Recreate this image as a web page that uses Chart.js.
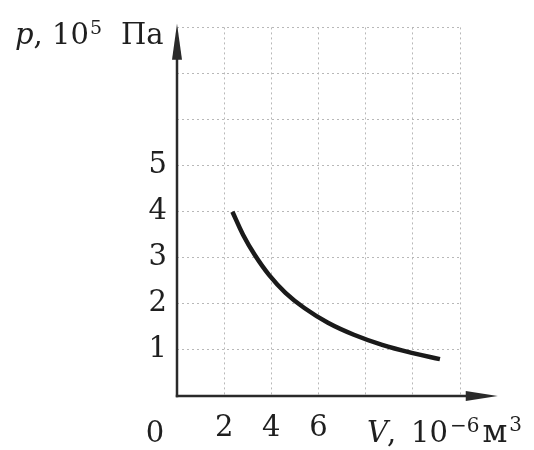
<!DOCTYPE html>
<html>
<head>
<meta charset="utf-8">
<script src="https://cdn.jsdelivr.net/npm/chart.js@4/dist/chart.umd.min.js"></script>
<style>
  html, body { margin: 0; padding: 0; background: #ffffff; }
  #wrap { width: 534px; height: 450px; }
</style>
</head>
<body>
<div id="wrap"><canvas id="c" width="534" height="450"></canvas></div>
<script>
// Data
const volume   = [2.35, 2.8, 3.3, 3.9, 4.6, 5.4, 6.4, 7.5, 8.7, 10.0, 11.15]; // V, 10^-6 m^3
const pressure = [4.0, 3.5, 3.06, 2.63, 2.24, 1.91, 1.59, 1.33, 1.11, 0.93, 0.8]; // p, 10^5 Pa
const yTickLabels = [1, 2, 3, 4, 5];
const xTickLabels = [2, 4, 6];
const originLabel = '0';

const FONT = '"DejaVu Serif", "Liberation Serif", serif';
const INK = '#1f1f1f';

const points = volume.map((v, i) => ({ x: v, y: pressure[i] }));

const axesPlugin = {
  id: 'axesArrows',
  afterDraw(chart) {
    const ctx = chart.ctx;
    const xs = chart.scales.x, ys = chart.scales.y;
    const x0 = xs.getPixelForValue(0), y0 = ys.getPixelForValue(0);
    const xTip = xs.getPixelForValue(13.6);
    const yTip = ys.getPixelForValue(8.08);
    ctx.save();
    ctx.strokeStyle = '#2a2a2a';
    ctx.fillStyle = '#2a2a2a';
    ctx.lineWidth = 2.5;
    ctx.lineCap = 'butt';
    // x axis
    ctx.beginPath();
    ctx.moveTo(x0 - 1.2, y0);
    ctx.lineTo(xTip - 20, y0);
    ctx.stroke();
    ctx.beginPath();
    ctx.moveTo(xTip, y0);
    ctx.lineTo(xTip - 32, y0 - 5);
    ctx.lineTo(xTip - 32, y0 + 5);
    ctx.closePath();
    ctx.fill();
    // y axis
    ctx.beginPath();
    ctx.moveTo(x0, y0 + 1.2);
    ctx.lineTo(x0, yTip + 20);
    ctx.stroke();
    ctx.beginPath();
    ctx.moveTo(x0, yTip);
    ctx.lineTo(x0 - 5, yTip + 36);
    ctx.lineTo(x0 + 5, yTip + 36);
    ctx.closePath();
    ctx.fill();

    // texts
    ctx.fillStyle = INK;
    ctx.textBaseline = 'alphabetic';
    // origin label
    ctx.font = '29px ' + FONT;
    ctx.textAlign = 'center';
    ctx.fillText(originLabel, x0 - 22, 442);
    ctx.textAlign = 'left';

    let x;
    // y axis title: p, 10^5 Па
    ctx.font = 'italic 29px ' + FONT;
    ctx.fillText('p', 15, 44);
    x = 15 + ctx.measureText('p').width;
    ctx.font = '29px ' + FONT;
    ctx.fillText(',', x, 44);
    ctx.fillText('10', 52, 44);
    x = 52 + ctx.measureText('10').width + 1;
    ctx.font = '19px ' + FONT;
    ctx.fillText('5', x, 34);
    ctx.font = '29px ' + FONT;
    ctx.fillText('Па', 121, 44);

    // x axis title: V, 10^-6 м^3
    ctx.font = 'italic 29px ' + FONT;
    ctx.fillText('V', 367, 442);
    x = 367 + ctx.measureText('V').width;
    ctx.font = '29px ' + FONT;
    ctx.fillText(',', x - 1, 442);
    ctx.fillText('10', 411, 442);
    x = 411 + ctx.measureText('10').width + 2;
    ctx.font = '20px ' + FONT;
    ctx.fillText('\u2212', x, 432);
    x += ctx.measureText('\u2212').width;
    ctx.fillText('6', x, 432);
    x += ctx.measureText('6').width + 3;
    ctx.font = '32px ' + FONT;
    ctx.fillText('м', x, 442);
    x += ctx.measureText('м').width + 2;
    ctx.font = '20px ' + FONT;
    ctx.fillText('3', x, 431);
    ctx.restore();
  }
};

new Chart(document.getElementById('c'), {
  type: 'line',
  data: {
    datasets: [{
      data: points,
      borderColor: '#1a1a1a',
      borderWidth: 4.5,
      pointRadius: 0,
      fill: false,
      tension: 0.4,
      borderCapStyle: 'butt',
      clip: false
    }]
  },
  options: {
    responsive: false,
    animation: false,
    events: [],
    layout: { padding: { top: 15, right: 74, left: 0, bottom: 0 } },
    plugins: { legend: { display: false }, tooltip: { enabled: false }, title: { display: false } },
    scales: {
      x: {
        type: 'linear',
        min: 0, max: 12,
        afterFit(scale) { scale.height = 54; },
        ticks: {
          stepSize: 2,
          padding: 15,
          color: INK,
          font: { family: FONT, size: 29 },
          callback: (v) => xTickLabels.includes(v) ? String(v) : ''
        },
        grid: { color: '#b8b8b8', lineWidth: 1, drawTicks: false },
        border: { display: false, dash: [2, 3] }
      },
      y: {
        type: 'linear',
        min: 0, max: 8,
        afterFit(scale) { scale.width = 177; },
        ticks: {
          stepSize: 1,
          padding: 10,
          color: INK,
          font: { family: FONT, size: 29 },
          callback: (v) => yTickLabels.includes(v) ? String(v) : ''
        },
        grid: { color: '#b8b8b8', lineWidth: 1, drawTicks: false },
        border: { display: false, dash: [2, 3] }
      }
    }
  },
  plugins: [axesPlugin]
});
</script>
</body>
</html>
